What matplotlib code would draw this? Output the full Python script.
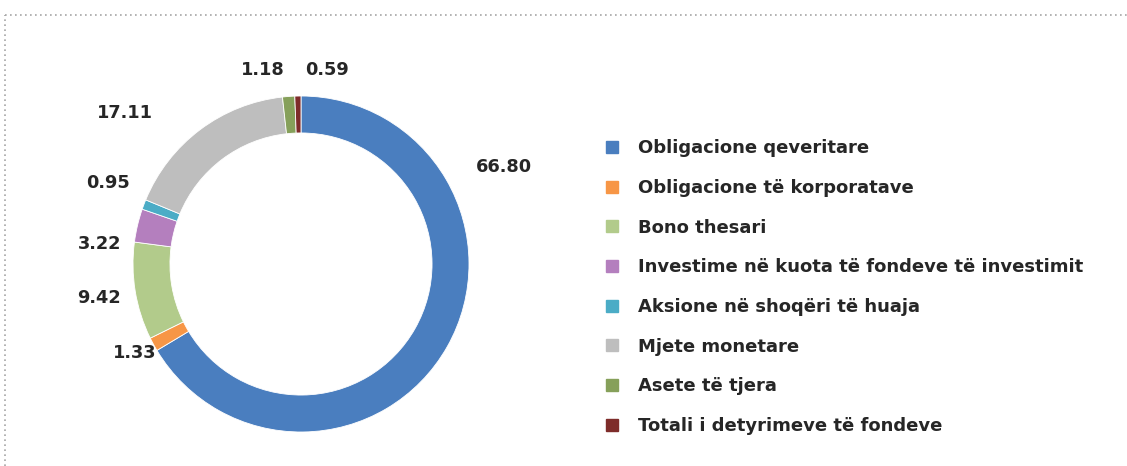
import matplotlib.pyplot as plt
from matplotlib.lines import Line2D

# Struktura e aseteve (%)
kategorite = [
    "Obligacione qeveritare",
    "Obligacione të korporatave",
    "Bono thesari",
    "Investime në kuota të fondeve të investimit",
    "Aksione në shoqëri të huaja",
    "Mjete monetare",
    "Asete të tjera",
    "Totali i detyrimeve të fondeve",
]
vlerat = [66.80, 1.33, 9.42, 3.22, 0.95, 17.11, 1.18, 0.59]
etiketat = ["66.80", "1.33", "9.42", "3.22", "0.95", "17.11", "1.18", "0.59"]

ngjyrat = ["#4A7EBF", "#F79646", "#B2CB8B", "#B47FBE", "#4BACC6",
           "#BEBEBE", "#86A05A", "#7E2C2A"]

# vendndodhja e etiketave (ne njesi rrezeje)
pozicionet = [(1.21, 0.58), (-0.99, -0.53), (-1.20, -0.20), (-1.20, 0.12),
              (-1.15, 0.48), (-1.05, 0.90), (-0.23, 1.155), (0.155, 1.155)]

W, H = 1127, 466
fig = plt.figure(figsize=(W / 100, H / 100), dpi=100)
ax = fig.add_axes([0, 0, 1, 1])

cx, cy, r = 301, 466 - 264, 168  # qendra dhe rrezja ne piksela

ax.pie(vlerat, colors=ngjyrat, startangle=90, counterclock=False,
       radius=1.0, wedgeprops=dict(width=0.22, edgecolor="white", linewidth=0.6))

for tekst, (x, y) in zip(etiketat, pozicionet):
    ax.text(x, y, tekst, ha="center", va="center", fontsize=12.8,
            fontweight="bold", color="#262626")

ax.set_xlim(-cx / r, (W - cx) / r)
ax.set_ylim(-cy / r, (H - cy) / r)
ax.set_aspect("auto")
ax.axis("off")

# legjenda
dorezat = [Line2D([0], [0], marker="s", linestyle="none", markersize=8,
                  markerfacecolor=c, markeredgecolor=c) for c in ngjyrat]
leg = fig.legend(dorezat, kategorite, loc="upper left",
                 bbox_to_anchor=(596 / W, 1 - 132 / H), frameon=False,
                 prop=dict(size=13, weight="bold"), labelspacing=1.2,
                 handletextpad=0.94, handlelength=1.0, borderaxespad=0)
for t in leg.get_texts():
    t.set_color("#262626")

# korniza me pika
fig.add_artist(Line2D([5 / W, 1], [1 - 15 / H, 1 - 15 / H], color="#A6A6A6",
                      linestyle=(0, (1, 2)), linewidth=1.2))
fig.add_artist(Line2D([5 / W, 5 / W], [0, 1 - 15 / H], color="#A6A6A6",
                      linestyle=(0, (1, 2)), linewidth=1.2))

fig.savefig("out.png", dpi=100)
